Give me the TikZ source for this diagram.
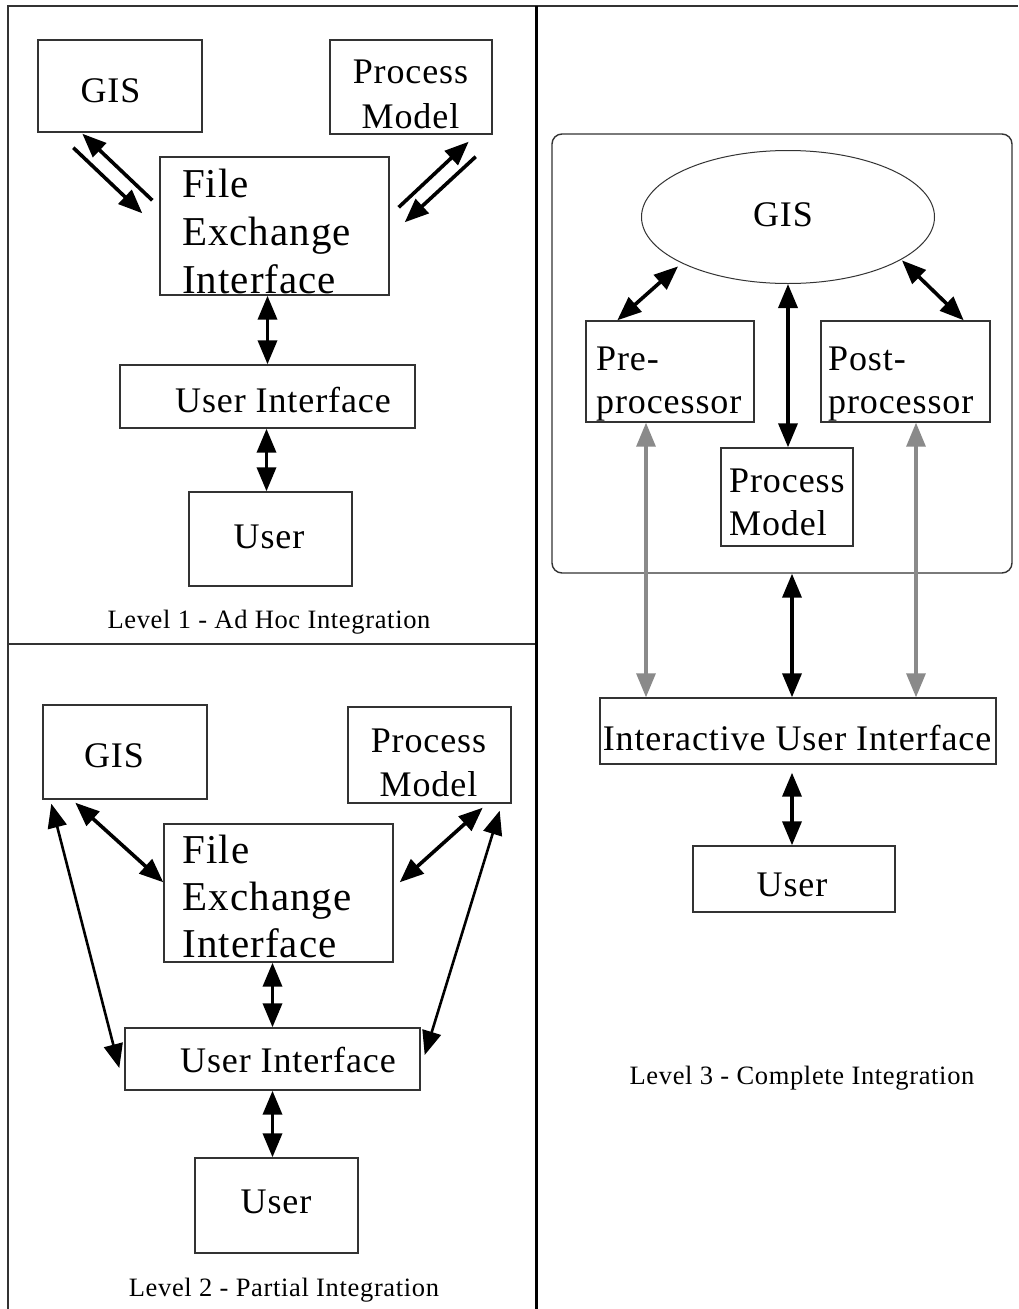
\documentclass[tikz,border=0pt]{standalone}
\usepackage{fontspec}
\setmainfont{Liberation Serif}[LetterSpace=2.5]
\usetikzlibrary{arrows.meta,calc,shapes.geometric}
\newcommand\lblfont{\fontsize{36}{43}\selectfont}
\newcommand\feifont{\fontsize{41}{48}\selectfont}
\newcommand\capfont{\fontsize{26.5}{32}\selectfont}
\definecolor{linegray}{HTML}{333333}
\definecolor{arrgray}{HTML}{8A8A8A}
\tikzset{
  box/.style={draw=linegray, line width=1.4pt, inner sep=0pt},
  lbl/.style={inner sep=0pt, anchor=base, font=\lblfont},
  lbll/.style={inner sep=0pt, anchor=base west, font=\lblfont},
  feil/.style={inner sep=0pt, anchor=base west, font=\feifont},
  capt/.style={inner sep=0pt, anchor=base, font=\capfont},
  tipA/.tip={Triangle[length=24pt,width=19pt]},
  tipG/.tip={Triangle[length=24pt,width=19pt,fill=arrgray]},
  dbl/.style={line width=3.6pt, tipA-tipA},
  one/.style={line width=3.6pt, -tipA},
  thin dbl/.style={line width=2.6pt, tipA-tipA},
  gray dbl/.style={line width=3.2pt, draw=arrgray, tipG-tipG},
  framel/.style={draw=linegray, line width=2pt},
}
\begin{document}
\begin{tikzpicture}[x=1pt,y=-1pt]
\useasboundingbox[fill=white] (0,0) rectangle (1018,1309);
% frame
\draw[framel] (8,1309) -- (8,6) -- (1018,6);
\draw[framel] (8,644) -- (536,644);
\draw[line width=3pt, black] (536,6) -- (536,1309);

% ---------- Panel 1 ----------
\node[box, minimum width=164, minimum height=92] (gis1) at (120,86) {};
\node[box, minimum width=162, minimum height=94] (pm1) at (411,87) {};
\node[box, minimum width=229, minimum height=138] (fei1) at (274.5,226) {};
\node[box, minimum width=295, minimum height=63] (ui1) at (267.5,396.5) {};
\node[box, minimum width=163, minimum height=94] (user1) at (270.5,539) {};
\node[lbl] (gis1t) at (110.5,102) {GIS};
\node[lbl] (pm1ta) at (410.5,83) {Process};
\node[lbl] (pm1tb) at (410.5,128) {Model};
\node[feil] (fei1ta) at (182,197) {File};
\node[feil] (fei1tb) at (182,245) {Exchange};
\node[feil] (fei1tc) at (182,293) {Interface};
\node[lbl] (ui1t) at (283,412) {User Interface};
\node[lbl] (user1t) at (269,548) {User};
\node[capt] (cap1) at (269,628) {Level 1 - Ad Hoc Integration};
\draw[one] ($(fei1.north west)+(-7,44)$) -- ($(gis1.south west)+(45,1)$);
\draw[one] ($(gis1.south west)+(36,15)$) -- ($(fei1.north west)+(-17,57)$);
\draw[one] ($(fei1.north east)+(9,51)$) -- ($(pm1.south east)+(-24,7)$);
\draw[one] ($(pm1.south east)+(-17,22)$) -- ($(fei1.north east)+(15,66)$);
\draw[dbl] (ui1.north |- fei1.south) -- (ui1.north);
\draw[dbl] ($(ui1.south)+(-1,0)$) coordinate (f1) -- (f1 |- user1.north);

% ---------- Panel 2 ----------
\node[box, minimum width=164, minimum height=94] (gis2) at (125,752) {};
\node[box, minimum width=163, minimum height=96] (pm2) at (429.5,755) {};
\node[box, minimum width=229, minimum height=138] (fei2) at (278.5,893) {};
\node[box, minimum width=295, minimum height=62] (ui2) at (272.5,1059) {};
\node[box, minimum width=163, minimum height=95] (user2) at (276.5,1205.5) {};
\node[lbl] (gis2t) at (114,767) {GIS};
\node[lbl] (pm2ta) at (428.5,752) {Process};
\node[lbl] (pm2tb) at (428.5,796) {Model};
\node[feil] (fei2ta) at (182.5,863) {File};
\node[feil] (fei2tb) at (182.5,910) {Exchange};
\node[feil] (fei2tc) at (182.5,957) {Interface};
\node[lbl] (ui2t) at (288,1072) {User Interface};
\node[lbl] (user2t) at (276,1213) {User};
\node[capt] (cap2) at (284,1296) {Level 2 - Partial Integration};
\draw[dbl] ($(gis2.south west)+(33,3)$) -- ($(fei2.north west)+(0,59)$);
\draw[dbl] ($(pm2.south east)+(-29,4)$) -- ($(fei2.north east)+(6,59)$);
\draw[thin dbl] ($(gis2.south west)+(9,4)$) -- ($(ui2.west)+(-5,9)$);
\draw[thin dbl] ($(pm2.south east)+(-12,7)$) -- ($(ui2.east)+(4,-4)$);
\draw[dbl] (ui2.north |- fei2.south) -- (ui2.north);
\draw[dbl] (ui2.south) -- (ui2.south |- user2.north);

% ---------- Panel 3 ----------
\node[draw=linegray, line width=1.4pt, rounded corners=10pt, inner sep=0pt,
      minimum width=460, minimum height=439] (frame3) at (782,353.5) {};
\node[ellipse, draw=linegray, line width=1pt, inner sep=0pt,
      minimum width=293, minimum height=133] (gis3) at (788,217) {};
\node[box, minimum width=168, minimum height=101] (pre3) at (670,371.5) {};
\node[box, minimum width=169, minimum height=101] (post3) at (905.5,371.5) {};
\node[box, minimum width=132, minimum height=98] (pm3) at (787,497) {};
\node[box, minimum width=396, minimum height=66] (iui3) at (798,731) {};
\node[box, minimum width=202, minimum height=66] (user3) at (794,879) {};
\node[lbl] (gis3t) at (783,226) {GIS};
\node[lbll] (pre3ta) at (596,370) {Pre-};
\node[lbll] (pre3tb) at (596,413) {processor};
\node[lbll] (post3ta) at (828,370) {Post-};
\node[lbll] (post3tb) at (828,413) {processor};
\node[lbll] (pm3ta) at (729,492) {Process};
\node[lbll] (pm3tb) at (729,535) {Model};
\node[lbl] (iui3t) at (797,750) {Interactive User Interface};
\node[lbl] (user3t) at (792,896) {User};
\node[capt] (cap3) at (802,1084) {Level 3 - Complete Integration};
\draw[dbl] ($(gis3.south west)+(-6,2)$) -- ($(pre3.north west)+(32,0)$);
\draw[dbl] ($(gis3.south east)+(10,-4)$) -- ($(post3.north east)+(-27,0)$);
\draw[dbl] (gis3.south) -- (gis3.south |- pm3.north);
\draw[gray dbl] ($(pre3.south)+(-24,0)$) coordinate (p3) -- (p3 |- iui3.north);
\draw[gray dbl] ($(post3.south)+(10.5,0)$) coordinate (q3) -- (q3 |- iui3.north);
\draw[dbl] ($(frame3.south)+(10,0)$) coordinate (r3) -- (r3 |- iui3.north);
\draw[dbl] ($(iui3.south -| user3.north)+(-2,8)$) coordinate (s3) -- (s3 |- user3.north);
\end{tikzpicture}
\end{document}
